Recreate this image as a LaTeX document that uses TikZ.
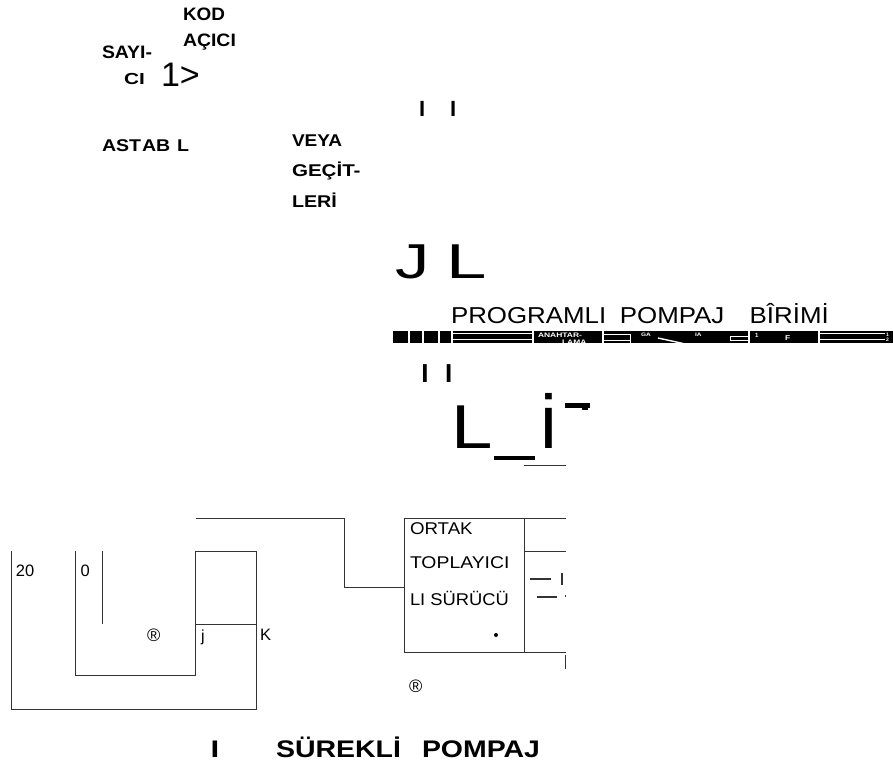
\documentclass[tikz,border=0pt]{standalone}
\usepackage{fontspec}
\setmainfont{Liberation Sans}
\newcommand{\TT}[7][black]{\node[txt,text=#1] (#2) at (#3,#4) {\scalebox{#6}[1]{\fontsize{#5}{#5}\selectfont #7}};}
\newcommand{\TB}[7][black]{\node[txt,text=#1] (#2) at (#3,#4) {\scalebox{#6}[1]{\fontsize{#5}{#5}\selectfont\bfseries #7}};}
\tikzset{txt/.style={anchor=base west,inner sep=0pt,outer sep=0pt},
 ln/.style={draw=black!80,line width=0.9pt,line cap=butt,line join=miter},
 wl/.style={draw=white,line width=0.9pt}}
\begin{document}
\begin{tikzpicture}[x=1pt,y=-1pt]
\useasboundingbox (0,0) rectangle (893,767);
% top labels
\TB{kod}{183}{21}{18}{1.05}{KOD}
\TB{acici}{183}{47}{18}{1.08}{AÇICI}
\TB{sayi}{102}{59}{18}{1.08}{SAYI-}
\TB{ci}{124}{85}{16}{1.3}{CI}
\TT{onegt}{161}{87}{34}{1}{1>}
\TB{astabl}{102}{152}{17}{1.15}{AST\hspace{0.05em}AB\hspace{0.35em}L}
\TB{veya}{292}{147}{17}{1.12}{VEYA}
\TB{gecit}{292}{177}{17}{1.21}{GEÇİT-}
\TB{leri}{292}{208}{17}{1.16}{LERİ}
\TB{ia}{419}{117}{22}{1}{I}
\TB{ib}{450}{117}{22}{1}{I}
\TT{jj}{395.5}{278}{49}{1.4}{J}
\TT{ll}{446}{278}{49}{1.48}{L}
\TT{prog}{451}{323}{23}{1.125}{PROGRAMLI\hspace{0.25em} POMPAJ\hspace{0.7em} BÎRİMİ}
% band
\begin{scope}
\clip (393,331) rectangle (893,343);
\fill[black] (393,331) rectangle (893,343);
\foreach \x in {409,423,439,452,533,603,749,819}{\draw[wl,line width=1.2pt] (\x,331) -- (\x,343);}
\foreach \y in {333.5,339.5}{\draw[wl] (452,\y) -- (533,\y);\draw[wl] (820,\y) -- (885,\y);}
\draw[wl] (603,334) rectangle (630,340);
\draw[wl] (630,334) -- (630,343);
\draw[wl] (730,336) rectangle (748,340);
\draw[wl,line width=1.4pt] (658,338) -- (690,345);
\TB[white]{anahtar}{538}{337}{6.5}{1.3}{ANAHTAR-}
\TB[white]{lama}{562}{344}{6.5}{1.3}{LAMA}
\TB[white]{ga}{641}{336}{5}{1.3}{GA}
\TB[white]{ib2}{695}{336}{5}{1.3}{IA}
\TB[white]{one}{755}{337}{6}{1}{1}
\TB[white]{ff}{785}{340}{7}{1.2}{F}
\TB[white]{sa}{886}{336}{5}{1}{1}
\TB[white]{sb}{886}{341}{5}{1}{2}
\end{scope}
% middle glyphs
\TB{ic}{421.4}{382}{26}{1}{I}
\TB{id}{445}{382}{26}{1}{I}
\TT{bigl}{451.6}{448}{62}{1.2}{L}
\TT{bigi}{540}{448}{76}{1}{i}
\fill (494,456) rectangle (535,460);
\fill (565,403) rectangle (590,408);
\fill (582,408) rectangle (588,410);
\draw[ln] (524,465) -- (566,465);
% wires left
\draw[ln] (195.5,518) -- (344,518) -- (344,587) -- (404,587);
\draw[ln] (11,551) -- (11,709) -- (256,709) -- (256,551) -- (195,551) -- (195,675) -- (75,675) -- (75,551);
\draw[ln] (102,551) -- (102,624);
\draw[ln] (195,624) -- (256,624);
\TT{twenty}{16}{576}{16.5}{1}{20}
\TT{zero}{80.5}{576}{16.5}{1}{0}
\TT{ra}{147}{641}{18}{1}{®}
\TT{jl}{201}{641}{16}{1}{j}
\TT{kl}{260}{640}{16.5}{1}{K}
% box
\draw[ln] (566,518) -- (404,518) -- (404,652) -- (566,652);
\draw[ln] (524.5,518) -- (524.5,652);
\draw[ln] (524.5,551) -- (566,551);
\TT{ortak}{410}{534}{17}{1.1}{ORTAK}
\TT{topl}{410}{568}{17}{1.14}{TOPLAYICI}
\TT{lisu}{410}{605}{17}{1.08}{LI SÜRÜCÜ}
\fill (496,635) circle (2);
\draw[ln,line width=1.1pt] (530,579) -- (551,579);
\draw[ln,line width=1.1pt] (537,597) -- (557,597);
\draw[ln,line width=1.1pt] (562,573) -- (562,585);
\draw[ln,line width=1.1pt] (565,596) -- (566,596);
\draw[ln,line width=1.1pt] (565.5,655) -- (565.5,669);
\TT{rb}{409}{692}{18}{1}{®}
% bottom title
\TB{ie}{210.5}{757}{24}{1.3}{I}
\TB{surekli}{276}{757}{24}{1.187}{SÜREKLİ}
\TB{pompaj}{422}{757}{24}{1.185}{POMPAJ}
\end{tikzpicture}
\end{document}
